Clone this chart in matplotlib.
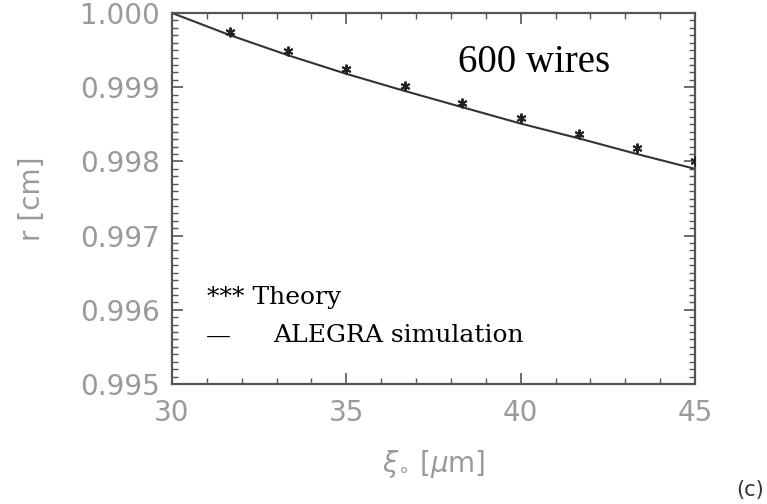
import matplotlib
matplotlib.use("Agg")
import matplotlib.pyplot as plt
from matplotlib.ticker import MultipleLocator, FormatStrFormatter

# Data
theory_x = [31.67, 33.33, 35.0, 36.67, 38.33, 40.0, 41.67, 43.33, 45.0]
theory_r = [0.99974, 0.99949, 0.99924, 0.99901, 0.99879, 0.99858, 0.99837, 0.99818, 0.99800]

sim_x = [30.0, 31.67, 33.33, 35.0, 36.67, 38.33, 40.0, 41.67, 43.33, 45.0]
sim_r = [1.00000, 0.99970, 0.99943, 0.99918, 0.99895, 0.99873, 0.99851, 0.99831, 0.99810, 0.99790]

xticks = [30, 35, 40, 45]
yticks = [0.995, 0.996, 0.997, 0.998, 0.999, 1.000]

grey = "#9a9a9a"
spine = "#555555"

fig = plt.figure(figsize=(7.67, 5.04), dpi=100)
ax = fig.add_axes([172/767, 1-384/504, 523/767, 371/504])

ax.plot(sim_x, sim_r, color="#333333", lw=1.5, zorder=2)
ax.plot(theory_x, theory_r, linestyle="none", marker=(6, 2, 0), ms=7,
        mew=1.4, color="#222222", zorder=3)

ax.set_xlim(30, 45)
ax.set_ylim(0.995, 1.000)
ax.set_xticks(xticks)
ax.set_yticks(yticks)
ax.yaxis.set_major_formatter(FormatStrFormatter("%.3f"))
ax.xaxis.set_minor_locator(MultipleLocator(1))
ax.yaxis.set_minor_locator(MultipleLocator(0.0001))

for s in ax.spines.values():
    s.set_color(spine)
    s.set_linewidth(1.6)

ax.tick_params(which="both", direction="in", top=True, right=True,
               color=spine, labelcolor=grey, labelsize=20)
ax.tick_params(which="major", length=8, width=1.2)
ax.tick_params(which="minor", length=4, width=1.0)
ax.tick_params(axis="x", pad=11)
ax.tick_params(axis="y", pad=9)

ax.set_ylabel("r [cm]", color=grey, fontsize=20, labelpad=24)
ax.set_xlabel(r"$\xi_{\circ}$ [$\mu$m]", color=grey, fontsize=20, labelpad=15)

ax.text((458-172)/523, (384-62)/371, "600 wires", transform=ax.transAxes,
        fontsize=28, family="Liberation Serif", color="black",
        va="center", ha="left")
ax.text(0.067, 0.2345, "*** Theory", transform=ax.transAxes, fontsize=18,
        family="DejaVu Serif", color="black", va="center", ha="left")
ax.text(0.065, 0.128, "\u2014", transform=ax.transAxes, fontsize=18,
        family="DejaVu Serif", color="black", va="center", ha="left")
ax.text((273-172)/523, 0.132, "ALEGRA simulation", transform=ax.transAxes,
        fontsize=18, family="DejaVu Serif", color="black",
        va="center", ha="left")

fig.text(750/767, 1-490/504, "(c)", fontsize=15, color="#333333",
         ha="center", va="center")

fig.savefig("out.png", dpi=100)
